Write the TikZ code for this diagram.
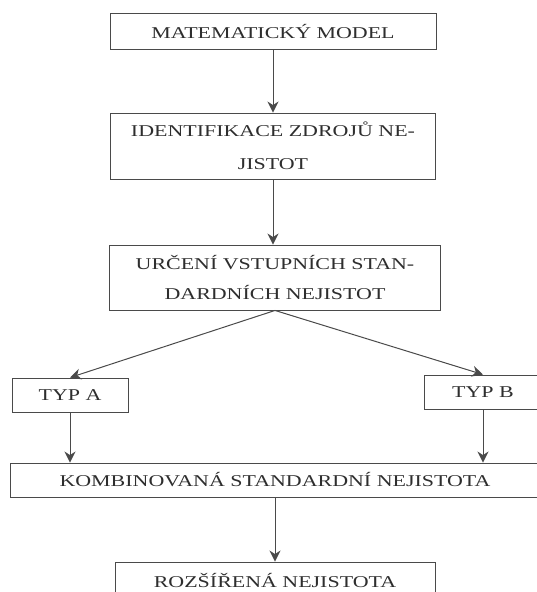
\documentclass[tikz,border=0pt]{standalone}
\usepackage{fontspec}
\setmainfont{Liberation Serif}[FakeStretch=1.33]
\usetikzlibrary{arrows.meta}
\definecolor{ink}{HTML}{2E2E2E}
\definecolor{edge}{HTML}{4A4A4A}
\tikzset{
  box/.style={draw=edge, line width=0.9pt, inner sep=0pt, text=ink, align=center,
    font=\fontsize{16.5}{33}\selectfont},
  arr/.style={draw=edge, line width=1pt, -{Stealth[length=11pt,width=11pt,inset=3.5pt]}},
}
\begin{document}
\begin{tikzpicture}[x=1pt,y=-1pt]
\useasboundingbox (0,0) rectangle (537,592);
\fill[white] (0,0) rectangle (537,592);
\clip (0,0) rectangle (537,592);
\node[box, minimum width=326pt, minimum height=36pt] (b1) at (273,31) {MATEMATICKÝ MODEL};
\node[box, minimum width=325pt, minimum height=66pt] (b2) at (273,146) {IDENTIFIKACE ZDROJŮ NE-\\JISTOT};
\node[box, minimum width=331pt, minimum height=65pt, font=\fontsize{16.5}{30}\selectfont] (b3) at (275,277.5) {URČENÍ VSTUPNÍCH STAN-\\DARDNÍCH NEJISTOT};
\node[box, minimum width=116pt, minimum height=34pt] (ta) at (70,395) {TYP A};
\node[box, minimum width=118pt, minimum height=34pt] (tb) at (483,392) {TYP B};
\node[box, minimum width=530pt, minimum height=34pt] (k) at (275,480) {KOMBINOVANÁ STANDARDNÍ NEJISTOTA};
\node[box, minimum width=320pt, minimum height=36pt] (r) at (275,580) {ROZŠÍŘENÁ NEJISTOTA};
\draw[arr] (b1.south) -- (b2.north);
\draw[arr] (b2.south) -- (b2.south |- b3.north);
\draw[arr] (b3.south) -- (ta.north);
\draw[arr] (b3.south) -- (tb.north);
\draw[arr] (ta.south) -- (ta.south |- k.north);
\draw[arr] (tb.south) -- (tb.south |- k.north);
\draw[arr] (r.north |- k.south) -- (r.north);
\end{tikzpicture}
\end{document}
